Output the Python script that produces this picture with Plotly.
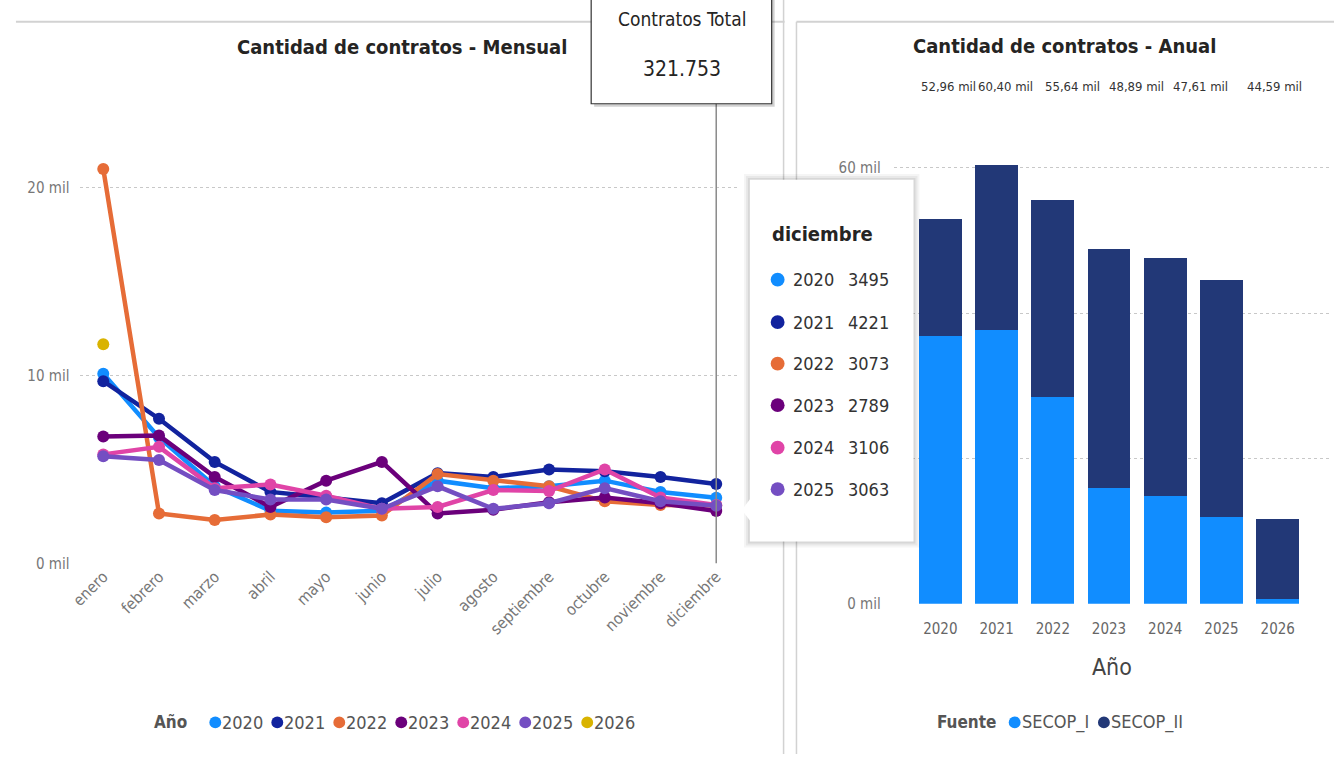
import plotly.graph_objects as go

# ---- data -------------------------------------------------------------
months = ["enero", "febrero", "marzo", "abril", "mayo", "junio", "julio",
          "agosto", "septiembre", "octubre", "noviembre", "diciembre"]

years_line = ["2020", "2021", "2022", "2023", "2024", "2025", "2026"]
c2020 = [10100, 6700, 4100, 2800, 2700, 2800, 4400, 4000, 4100, 4400, 3800, 3495]
c2021 = [9700, 7700, 5400, 3800, 3500, 3200, 4800, 4600, 5000, 4900, 4600, 4221]
c2022 = [21000, 2650, 2300, 2600, 2450, 2550, 4750, 4400, 4100, 3300, 3100, 3073]
c2023 = [6750, 6800, 4600, 3000, 4400, 5400, 2650, 2850, 3250, 3500, 3200, 2789]
c2024 = [5800, 6200, 4000, 4200, 3600, 2900, 3000, 3900, 3850, 5000, 3500, 3106]
c2025 = [5700, 5500, 3900, 3400, 3400, 2900, 4100, 2900, 3200, 4000, 3300, 3063]
c2026 = [11663, None, None, None, None, None, None, None, None, None, None, None]
monthly = [c2020, c2021, c2022, c2023, c2024, c2025, c2026]
year_colors = ["#118DFF", "#12239E", "#E66C37", "#6B007B", "#E044A7", "#744EC2", "#D9B300"]

years_bar = ["2020", "2021", "2022", "2023", "2024", "2025", "2026"]
total_anual = [52960, 60400, 55640, 48890, 47610, 44590, 11663]
secop_i = [36800, 37700, 28500, 15900, 14900, 12000, 600]
secop_ii = [t - s for t, s in zip(total_anual, secop_i)]
fuentes = ["SECOP_I", "SECOP_II"]
fuente_colors = ["#118DFF", "#223877"]

left_ticks = [0, 10000, 20000]
right_ticks = [0, 20000, 40000, 60000]
right_tick_text = ["0 mil", "", "", "60 mil"]   # middle labels sit under the tooltip

# ---- page geometry helpers (pixels -> paper) --------------------------
W, H = 1334, 763
def px(x):
    return x / W
def py(y):
    return 1 - y / H

FONT = "DejaVu Sans Condensed, Liberation Sans Narrow, sans-serif"
GRID = "#c8c8c8"
TXT = "#666666"

fig = go.Figure()

# ---- monthly lines -----------------------------------------------------
for yr, vals, col in zip(years_line, monthly, year_colors):
    fig.add_trace(go.Scatter(
        x=months, y=vals, mode="lines+markers", name=yr,
        line=dict(color=col, width=4.5), marker=dict(color=col, size=12),
        xaxis="x", yaxis="y", connectgaps=False))

# ---- annual stacked bars -------------------------------------------------
fig.add_trace(go.Bar(x=years_bar, y=secop_i, name=fuentes[0],
                     marker=dict(color=fuente_colors[0], line=dict(width=0)),
                     xaxis="x2", yaxis="y2"))
fig.add_trace(go.Bar(x=years_bar, y=secop_ii, name=fuentes[1],
                     marker=dict(color=fuente_colors[1], line=dict(width=0)),
                     xaxis="x2", yaxis="y2"))

fig.update_layout(
    width=W, height=H, margin=dict(l=0, r=0, t=0, b=0),
    paper_bgcolor="white", plot_bgcolor="white",
    font=dict(family=FONT, color=TXT),
    barmode="stack", bargap=0.24, showlegend=False,
    xaxis=dict(domain=[px(70), px(733)], range=[-0.41, 11.39], type="category",
               anchor="y", tickangle=-45, tickfont=dict(size=16, color="#777777"),
               showgrid=False, zeroline=False, showline=False, ticks=""),
    yaxis=dict(domain=[py(570), py(133)], range=[0, 23000], anchor="x",
               tickvals=left_ticks, ticktext=[f"{v // 1000} mil" for v in left_ticks],
               tickfont=dict(size=15, color="#777777"), ticklabelstandoff=10,
               showgrid=True, gridcolor=GRID, griddash="dot", gridwidth=1,
               zeroline=False, showline=False, ticks=""),
    xaxis2=dict(domain=[px(890), px(1330)], range=[-0.83, 6.93], type="category",
                anchor="y2", tickfont=dict(size=15, color="#666666"), ticklabelstandoff=14,
                title=dict(text="Año", font=dict(size=23, color="#444444"), standoff=22),
                showgrid=False, zeroline=False, showline=False, ticks=""),
    yaxis2=dict(domain=[py(611), py(150)], range=[0, 62700], anchor="x2",
                tickvals=right_ticks, ticktext=right_tick_text,
                tickfont=dict(size=15, color="#777777"), ticklabelstandoff=12,
                showgrid=True, gridcolor=GRID, griddash="dot", gridwidth=1,
                zeroline=False, showline=False, ticks=""),
)

shapes = []
annotations = []

# visual frames
shapes.append(dict(type="line", xref="paper", yref="paper", x0=px(5), x1=px(780), y0=py(22), y1=py(22),
                   line=dict(color="#d2d2d2", width=2)))
shapes.append(dict(type="line", xref="paper", yref="paper", x0=px(779), x1=px(779), y0=py(0), y1=py(763),
                   line=dict(color="#d2d2d2", width=1.5)))
shapes.append(dict(type="line", xref="paper", yref="paper", x0=px(792), x1=px(1334), y0=py(22), y1=py(22),
                   line=dict(color="#d2d2d2", width=2)))
shapes.append(dict(type="line", xref="paper", yref="paper", x0=px(792), x1=px(792), y0=py(22), y1=py(763),
                   line=dict(color="#d2d2d2", width=1.5)))
# hover crosshair on the last month
shapes.append(dict(type="line", xref="x", yref="paper", x0=months[-1], x1=months[-1],
                   y0=py(570), y1=py(90), line=dict(color="#8a8a8a", width=1.5)))
# KPI card
shapes.append(dict(type="rect", xref="paper", yref="paper", x0=px(588), x1=px(770), y0=py(108), y1=py(-2),
                   line=dict(width=0), fillcolor="rgba(0,0,0,0.18)"))
shapes.append(dict(type="rect", xref="paper", yref="paper", x0=px(585), x1=px(767), y0=py(105), y1=py(-2),
                   line=dict(color="#333333", width=1.2), fillcolor="white"))
# tooltip box
for off, a in [(6, 0.04), (4, 0.05), (2, 0.07)]:
    shapes.append(dict(type="rect", xref="paper", yref="paper", x0=px(745 - off), x1=px(910 + off),
                       y0=py(548 + off), y1=py(182 - off), line=dict(width=0),
                       fillcolor=f"rgba(0,0,0,{a})"))
shapes.append(dict(type="rect", xref="paper", yref="paper", x0=px(745), x1=px(910), y0=py(548), y1=py(182),
                   line=dict(width=0), fillcolor="white"))
shapes.append(dict(type="path", xref="paper", yref="paper",
                   path=f"M {px(746)} {py(504)} L {px(737)} {py(516)} L {px(746)} {py(528)} Z",
                   line=dict(width=0), fillcolor="white"))

def text(t, x, y, size, color="#252423", anchor="left", xref="paper", xshift=0):
    annotations.append(dict(text=t, xref=xref, yref="paper", x=x, y=py(y), xshift=xshift,
                            showarrow=False, xanchor=anchor, yanchor="middle",
                            font=dict(size=size, color=color, family=FONT)))

def dot(cx, cy, col, r=6):
    shapes.append(dict(type="circle", xref="paper", yref="paper", x0=px(cx - r), x1=px(cx + r),
                       y0=py(cy + r), y1=py(cy - r), line=dict(width=0), fillcolor=col))

# titles
text("<b>Cantidad de contratos - Mensual</b>", px(394), 48, 20, anchor="center")
text("<b>Cantidad de contratos - Anual</b>", px(1062), 47, 20, anchor="center")

# KPI card text
total_general = sum(total_anual)
text("Contratos Total", px(677), 19, 19, anchor="center")
text(f"{total_general:,}".replace(",", "."), px(677), 70, 21, anchor="center")

# annual total labels over the bar chart
label_shift = [8, 9, 20, 27, 35, 53]
for i, (tot, sh) in enumerate(zip(total_anual[:6], label_shift)):
    text(f"{tot / 1000:.2f}".replace(".", ",") + " mil", i, 88, 13, color="#333333",
         anchor="center", xref="x2", xshift=sh)

# tooltip content
text(f"<b>{months[-1]}</b>", px(765), 237, 20)
row_y = [283, 326, 368, 410, 453, 495]
for yr, vals, col, ry in zip(years_line[:6], monthly[:6], year_colors[:6], row_y):
    dot(773, ry, col, r=7)
    text(yr, px(786), ry, 18, color="#333333")
    text(str(vals[-1]), px(842), ry, 18, color="#333333")

# legends
text("<b>Año</b>", px(152), 731, 17, color="#555555", xshift=-10)
for i, (yr, col) in enumerate(zip(years_line, year_colors)):
    cx = 206 + 62.5 * i
    dot(cx, 731, col)
    text(yr, px(cx + 5), 731, 18, color="#555555")

text("<b>Fuente</b>", px(935), 731, 17, color="#555555", xshift=-3)
for cx, name, col in zip([1012, 1102], fuentes, fuente_colors):
    dot(cx, 731, col)
    text(name, px(cx + 5), 731, 18, color="#555555")

fig.update_layout(shapes=shapes, annotations=annotations)
fig.write_html("out.html")
